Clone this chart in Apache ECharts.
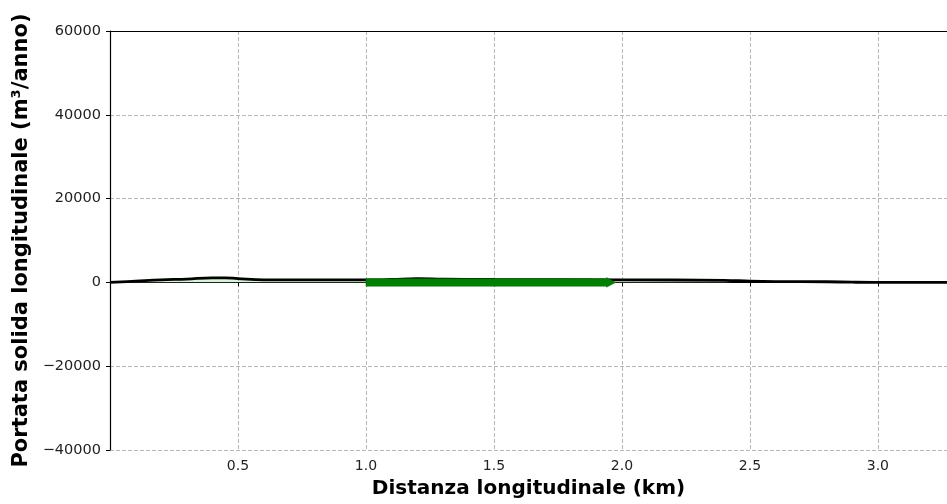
<!DOCTYPE html>
<html>
<head>
<meta charset="utf-8">
<script src="https://cdn.jsdelivr.net/npm/echarts@6/dist/echarts.min.js"></script>
<style>
html,body{margin:0;padding:0;background:#fff;}
#chart{width:947px;height:504px;}
</style>
</head>
<body>
<div id="chart"></div>
<script>
// Distance along shore (km) and longitudinal sediment transport (m3/anno)
var distance = [0, 0.1, 0.2, 0.3, 0.4, 0.45, 0.5, 0.6, 0.8, 1.0, 1.1, 1.2, 1.3, 1.5, 2.0, 2.4, 2.5, 2.6, 2.8, 2.9, 3.0, 3.3];
var portata  = [0, 300, 600, 800, 1100, 1100, 900, 600, 600, 600, 700, 900, 800, 700, 600, 500, 300, 200, 150, 50, 0, 0];
// positive-transport shaded stretch (km)
var fillDistance = [0, 0.1, 0.2, 0.3, 0.4, 0.45, 0.5, 0.6, 0.8, 1.0, 1.1, 1.2, 1.3, 1.5, 2.0, 2.4, 2.5];
var fillPortata  = [0, 300, 600, 800, 1100, 1100, 900, 600, 600, 600, 700, 900, 800, 700, 600, 500, 300];
// net transport direction arrow: [start km, end km, level]
var arrowData = [[1.0, 1.975, 0]];
var yTicks = [-40000, -20000, 0, 20000, 40000, 60000];
var xTickLabels = ['0.5', '1.0', '1.5', '2.0', '2.5', '3.0'];
var xMax = 3.27;

function pairs(xs, ys){ return xs.map(function(x,i){ return [x, ys[i]]; }); }

var chart = echarts.init(document.getElementById('chart'));
var gridDash = {color:'#b8b8b8', width:1, type:[4,2]};
var spine = {show:true, lineStyle:{color:'#000', width:1.2}};
chart.setOption({
  animation:false,
  grid:{left:110, top:31, right:0, height:421},
  xAxis:[{
    type:'value', min:0, max:xMax, interval:0.5, position:'bottom',
    name:'Distanza longitudinale (km)', nameLocation:'middle', nameGap:29,
    nameTextStyle:{fontFamily:'DejaVu Sans', fontWeight:'bold', fontSize:20, color:'#000'},
    axisLine:spine,
    axisTick:{show:true, length:4, lineStyle:{color:'#000'}},
    axisLabel:{fontFamily:'DejaVu Sans', fontSize:14, color:'#222', margin:9, showMaxLabel:false,
      formatter:function(v){ var s=v.toFixed(1); return xTickLabels.indexOf(s)>=0 ? s : ''; }},
    splitLine:{show:true, lineStyle:gridDash}
  },{
    type:'value', min:0, max:xMax, interval:0.5, position:'top',
    axisLine:spine, axisTick:{show:false}, axisLabel:{show:false}, splitLine:{show:false}
  }],
  yAxis:{
    type:'value', min:yTicks[0], max:yTicks[yTicks.length-1], interval:20000,
    name:'Portata solida longitudinale (m³/anno)', nameLocation:'middle', nameGap:76,
    nameTextStyle:{fontFamily:'DejaVu Sans', fontWeight:'bold', fontSize:21, color:'#000'},
    axisLine:spine,
    axisTick:{show:true, length:4, lineStyle:{color:'#000'}},
    axisLabel:{fontFamily:'DejaVu Sans', fontSize:14.5, color:'#222', margin:9,
      formatter:function(v){ return v<0 ? '\u2212'+Math.abs(v) : String(v); }},
    splitLine:{show:true, lineStyle:gridDash}
  },
  series:[
    {type:'line', data:pairs(fillDistance, fillPortata), smooth:0.4, symbol:'none',
     lineStyle:{width:0}, areaStyle:{color:'rgba(140,225,140,0.5)'}, z:2},
    {type:'line', data:pairs(distance, portata), smooth:0.4, symbol:'none',
     lineStyle:{color:'#000', width:2.8}, z:3},
    {type:'custom', data:arrowData, z:4, clip:true,
     renderItem:function(params, api){
       var x0=api.value(0), x1=api.value(1), lv=api.value(2);
       var half=900, headHalf=1150, headLen=0.035;
       var pts=[[x0,lv+half],[x1-headLen,lv+half],[x1-headLen,lv+headHalf],[x1,lv],[x1-headLen,lv-headHalf],[x1-headLen,lv-half],[x0,lv-half]]
         .map(function(p){ return api.coord(p); });
       return {type:'polygon', shape:{points:pts}, style:{fill:'#008000', stroke:'#006a00', lineWidth:0.5}};
     }}
  ]
});
</script>
</body>
</html>
